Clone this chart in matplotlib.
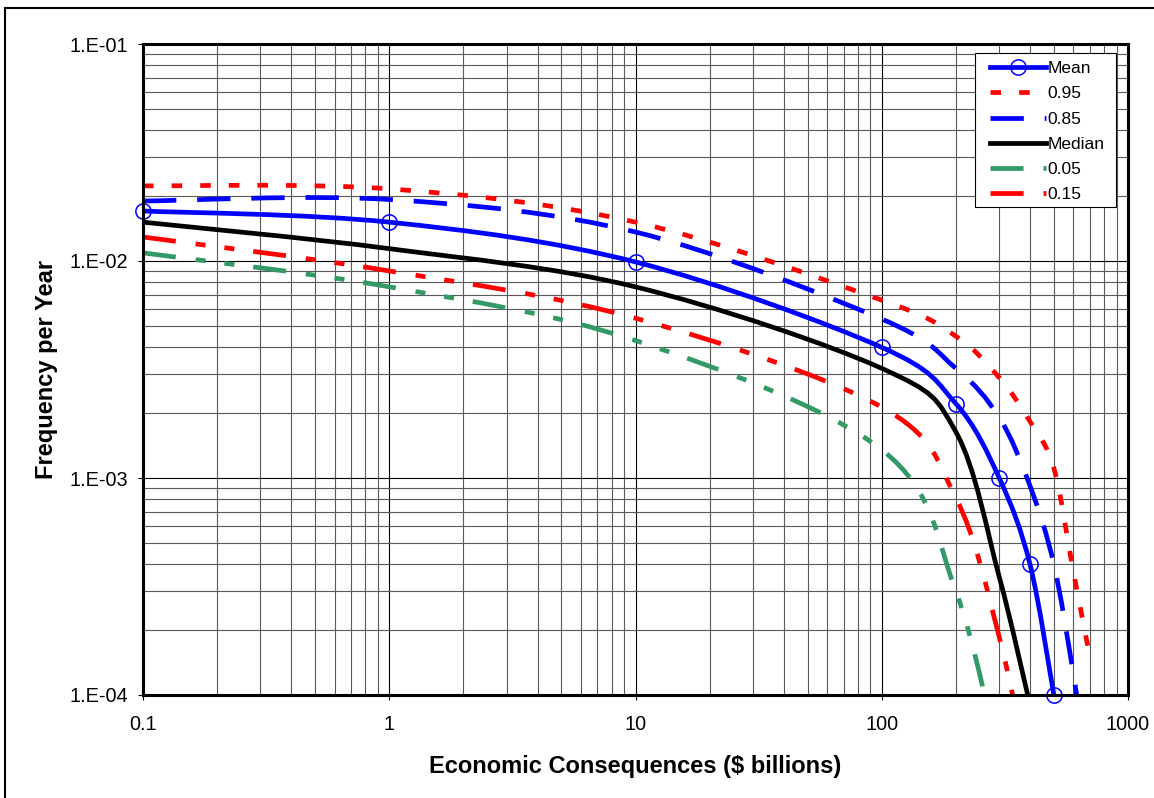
import numpy as np
import matplotlib
matplotlib.use("Agg")
import matplotlib.pyplot as plt
from matplotlib.path import Path
from matplotlib.patches import PathPatch, Rectangle
from matplotlib.lines import Line2D
from matplotlib.ticker import LogLocator, FuncFormatter, NullFormatter

plt.rcParams['font.family'] = ['Liberation Sans', 'DejaVu Sans']
plt.rcParams['lines.scale_dashes'] = False

# --- data (economic consequences in $ billions, frequency per year) ---
econ_mean = [0.1, 1, 10, 100, 200, 300, 400, 500]
freq_mean = [0.017, 0.0151, 0.0099, 0.004, 0.0022, 0.001, 0.0004, 0.0001]

econ_p95 = [0.1, 1, 10, 100, 200, 300, 400, 500, 600, 700]
freq_p95 = [0.0222, 0.0215, 0.0151, 0.0066, 0.0045, 0.0029, 0.00182, 0.00111, 0.00037, 0.00015]

econ_p85 = [0.1, 1, 10, 100, 200, 300, 400, 500, 600, 700]
freq_p85 = [0.0189, 0.0192, 0.0136, 0.0054, 0.0032, 0.0019, 0.00092, 0.0004, 0.000125, 0.00004]

econ_median = [0.1, 1, 10, 100, 200, 300, 400]
freq_median = [0.0151, 0.0114, 0.0076, 0.0032, 0.00163, 0.00035, 0.00009]

econ_p05 = [0.1, 1, 10, 100, 200, 300]
freq_p05 = [0.0109, 0.0076, 0.0043, 0.00135, 0.0003, 0.00005]

econ_p15 = [0.1, 1, 10, 100, 200, 300, 400]
freq_p15 = [0.0129, 0.0090, 0.00545, 0.00212, 0.00081, 0.000185, 0.00004]

labels = ['Mean', '0.95', '0.85', 'Median', '0.05', '0.15']

LW = 3.4
DOT = (0, (7.6, 13.0))
DASH = (0, (24.0, 15.0))
DASH_DOT_DOT = (0, (23.8, 14.4, 7.2, 13.7, 7.2, 13.7))
GREEN = '#339966'


def excel_smooth(ax, xs, ys, color, linestyle, lw=LW, zorder=3):
    """Draw an Excel-style smoothed line (Bezier through the points, in log space)."""
    p = np.column_stack([np.log10(xs), np.log10(ys)])
    n = len(p)
    verts = [p[0]]
    codes = [Path.MOVETO]
    for i in range(n - 1):
        prev = p[i - 1] if i > 0 else p[i]
        nxt = p[i + 2] if i + 2 < n else p[i + 1]
        c1 = p[i] + (p[i + 1] - prev) / 6
        c2 = p[i + 1] - (nxt - p[i]) / 6
        verts += [c1, c2, p[i + 1]]
        codes += [Path.CURVE4] * 3
    verts = 10 ** np.array(verts)
    patch = PathPatch(Path(verts, codes), fill=False, edgecolor=color,
                      linewidth=lw, linestyle=linestyle, zorder=zorder,
                      capstyle='butt', joinstyle='round')
    ax.add_patch(patch)


fig = plt.figure(figsize=(11.54, 7.98), dpi=100)
ax = fig.add_axes([143 / 1154, 1 - 695 / 798, 985 / 1154, 651 / 798])

ax.set_xscale('log')
ax.set_yscale('log')
ax.set_xlim(0.1, 1000)
ax.set_ylim(1e-4, 1e-1)

# series
excel_smooth(ax, econ_p05, freq_p05, GREEN, DASH_DOT_DOT)
excel_smooth(ax, econ_p15, freq_p15, 'red', DASH_DOT_DOT)
excel_smooth(ax, econ_median, freq_median, 'black', '-')
excel_smooth(ax, econ_p85, freq_p85, 'blue', DASH)
excel_smooth(ax, econ_p95, freq_p95, 'red', DOT)
excel_smooth(ax, econ_mean, freq_mean, 'blue', '-', zorder=4)
ax.plot(econ_mean, freq_mean, linestyle='none', marker='o', markersize=11,
        markerfacecolor='none', markeredgecolor='blue', markeredgewidth=1.1,
        clip_on=False, zorder=5)

# grid / ticks
ax.xaxis.set_major_locator(LogLocator(base=10, numticks=10))
ax.xaxis.set_minor_locator(LogLocator(base=10, subs=np.arange(2, 10), numticks=50))
ax.yaxis.set_major_locator(LogLocator(base=10, numticks=10))
ax.yaxis.set_minor_locator(LogLocator(base=10, subs=np.arange(2, 10), numticks=50))
ax.xaxis.set_minor_formatter(NullFormatter())
ax.yaxis.set_minor_formatter(NullFormatter())
ax.xaxis.set_major_formatter(FuncFormatter(lambda v, pos: '%g' % v))
ax.yaxis.set_major_formatter(FuncFormatter(
    lambda v, pos: '1.E-%02d' % int(round(-np.log10(v)))))

ax.grid(True, which='major', color='black', linewidth=0.8, zorder=1)
ax.grid(True, which='minor', color='#5a5a5a', linewidth=0.8, zorder=1)
ax.set_axisbelow(True)

ax.tick_params(which='major', direction='out', length=3.6, width=0.8, color='black')
ax.tick_params(which='minor', length=0)
ax.tick_params(axis='x', labelsize=14.3, pad=11)
ax.tick_params(axis='y', labelsize=14.3, pad=7)

for side in ['left', 'right', 'top', 'bottom']:
    ax.spines[side].set_linewidth(2.2)
    ax.spines[side].set_color('black')
    ax.spines[side].set_zorder(6)

ax.set_xlabel('Economic Consequences ($ billions)', fontsize=17, fontweight='bold')
ax.set_ylabel('Frequency per Year', fontsize=17, fontweight='bold')
ax.xaxis.set_label_coords(0.5, -0.092)
ax.yaxis.set_label_coords(-0.086, 0.5)

# legend
handles = [
    Line2D([], [], color='blue', lw=LW, marker='o', markersize=11,
           markerfacecolor='none', markeredgecolor='blue', markeredgewidth=1.1),
    Line2D([], [], color='red', lw=LW, linestyle=DOT, dash_capstyle='butt'),
    Line2D([], [], color='blue', lw=LW, linestyle=DASH, dash_capstyle='butt'),
    Line2D([], [], color='black', lw=LW),
    Line2D([], [], color=GREEN, lw=LW, linestyle=DASH_DOT_DOT, dash_capstyle='butt'),
    Line2D([], [], color='red', lw=LW, linestyle=DASH_DOT_DOT, dash_capstyle='butt'),
]
leg_box = Rectangle((975 / 1154, 1 - 207 / 798), 141 / 1154, 154 / 798,
                    transform=fig.transFigure, facecolor='white', edgecolor='black',
                    linewidth=0.8, zorder=7)
fig.add_artist(leg_box)
leg = fig.legend(handles, labels, loc='upper left',
                 bbox_to_anchor=(990 / 1154, 1 - 61 / 798), bbox_transform=fig.transFigure,
                 frameon=False, fontsize=12.5, borderpad=0, borderaxespad=0,
                 handlelength=3.2, handletextpad=0.1, labelspacing=0.58, numpoints=1)
leg.set_zorder(8)

# outer chart border
border = Rectangle((5 / 1154, -0.05), 1.2, 1.05 - 8 / 798, transform=fig.transFigure,
                   fill=False, edgecolor='black', linewidth=1.5, clip_on=False)
fig.add_artist(border)

fig.savefig('out.png', dpi=100, facecolor='white')
